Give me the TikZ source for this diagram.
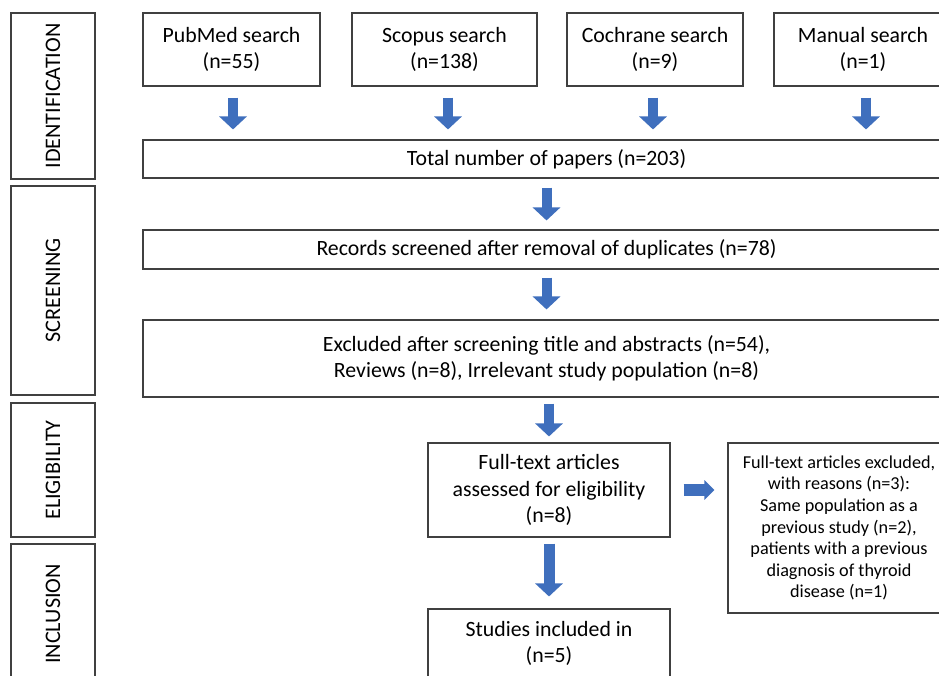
\documentclass[tikz,border=0pt]{standalone}
\usepackage{fontspec}
\setmainfont{Carlito}
\usetikzlibrary{arrows.meta}
\definecolor{arrowblue}{HTML}{3F6FBD}
\definecolor{boxline}{HTML}{404040}
\begin{document}
\begin{tikzpicture}[x=1pt,y=-1pt,
  box/.style={draw=boxline,line width=1.1pt,inner sep=0pt,align=center,font=\fontsize{21.8}{26.5}\selectfont},
  smallbox/.style={box,font=\fontsize{18.2}{21.6}\selectfont},
  sidebox/.style={box,rotate=90,font=\fontsize{22.2}{24}\selectfont},
  barrow/.style={arrowblue,line width=10pt,-{Triangle[width=27pt,length=13pt]}},
  rarrow/.style={arrowblue,line width=12pt,-{Triangle[width=19pt,length=10pt]}}
]
\useasboundingbox (0,0) rectangle (939,675);
\clip (0,0) rectangle (939,675);
\fill[white] (0,0) rectangle (939,675);

% side labels
\node[sidebox,minimum width=166pt,minimum height=84pt] (sid) at (53,96) {IDENTIFICATION};
\node[sidebox,minimum width=209pt,minimum height=84pt] (ssc) at (53,290.5) {SCREENING};
\node[sidebox,minimum width=134pt,minimum height=84pt] (sel) at (53,470) {ELIGIBILITY};
\node[sidebox,minimum width=140pt,minimum height=84pt] (sin) at (53,614) {INCLUSION};

% identification
\node[box,minimum width=177pt,minimum height=73pt] (pub) at (231.5,49.5) {PubMed search\\(n=55)};
\node[box,minimum width=185pt,minimum height=73pt] (sco) at (444.5,49.5) {Scopus search\\(n=138)};
\node[box,minimum width=176pt,minimum height=73pt] (coc) at (655,49.5) {Cochrane search\\(n=9)};
\node[box,minimum width=178pt,minimum height=73pt] (man) at (863,49.5) {Manual search\\(n=1)};
\node[box,minimum width=807pt,minimum height=38pt] (tot) at (546.5,159) {Total number of papers (n=203)};

% screening
\node[box,minimum width=807pt,minimum height=39pt] (rec) at (546.5,249.5) {Records screened after removal of duplicates (n=78)};
\node[box,minimum width=807pt,minimum height=77pt] (exc) at (546.5,358.5) {Excluded after screening title and abstracts (n=54),\\Reviews (n=8), Irrelevant study population (n=8)};

% eligibility
\node[box,minimum width=242pt,minimum height=94pt] (ft) at (549,490) {Full-text articles\\assessed for eligibility\\(n=8)};
\node[smallbox,minimum width=222pt,minimum height=170pt] (rs) at (839,528) {Full-text articles excluded,\\with reasons (n=3):\\Same population as a\\previous study (n=2),\\patients with a previous\\diagnosis of thyroid\\disease (n=1)};

% inclusion
\node[box,minimum width=242pt,minimum height=69pt] (inc) at (549,643.5) {Studies included in\\(n=5)};

% arrows
\draw[barrow,shorten <=11pt,shorten >=10pt] ([xshift=1.5pt]pub.south) -- ([xshift=1.5pt]pub.south |- tot.north);
\draw[barrow,shorten <=11pt,shorten >=10pt] ([xshift=3.5pt]sco.south) -- ([xshift=3.5pt]sco.south |- tot.north);
\draw[barrow,shorten <=11pt,shorten >=10pt] ([xshift=-2pt]coc.south) -- ([xshift=-2pt]coc.south |- tot.north);
\draw[barrow,shorten <=11pt,shorten >=10pt] ([xshift=3pt]man.south) -- ([xshift=3pt]man.south |- tot.north);
\draw[barrow,shorten <=9pt,shorten >=9pt] (tot.south) -- (rec.north);
\draw[barrow,shorten <=8pt,shorten >=10pt] (rec.south) -- (exc.north);
\draw[barrow,shorten <=6pt,shorten >=6pt] (exc.south -| ft.north) -- (ft.north);
\draw[barrow,line width=11pt,shorten <=6pt,shorten >=12pt] (ft.south) -- (inc.north);
\draw[rarrow,shorten <=13pt,shorten >=13pt] (ft.east) -- (ft.east -| rs.west);
\end{tikzpicture}
\end{document}
